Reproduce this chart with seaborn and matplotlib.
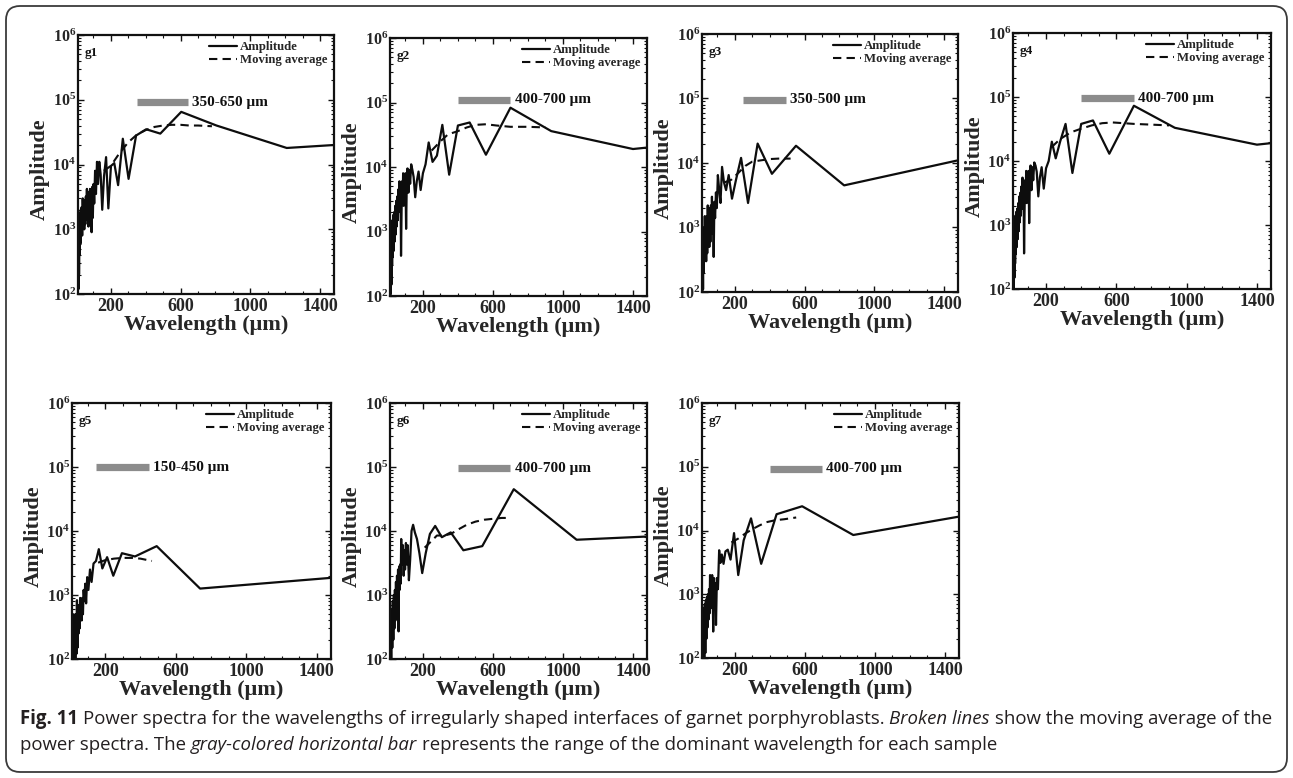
import matplotlib
matplotlib.use('Agg')
import numpy as np
import pandas as pd
import matplotlib.pyplot as plt
import seaborn as sns
from matplotlib.patches import FancyBboxPatch
from matplotlib.transforms import IdentityTransform
from matplotlib.ticker import FixedLocator, MultipleLocator, LogLocator, NullFormatter, FixedFormatter
from matplotlib import font_manager

# ---------------- data ----------------
panel_names = ['g1', 'g2', 'g3', 'g4', 'g5', 'g6', 'g7']

g1_x = [1480, 1209, 806, 604, 484, 403, 345, 302, 269, 242, 220, 201, 186, 173, 161, 151, 142, 134,
        127, 121, 115, 110, 105, 101, 97, 93, 90, 87, 84, 81, 78, 75, 72, 69, 66, 63, 60, 57, 54,
        51, 48, 45, 42, 39, 36, 33, 30, 28, 26, 24, 22, 20, 18, 17, 16, 15]
g1_amp = [2.0e4, 1.8e4, 4.0e4, 6.5e4, 3.0e4, 3.5e4, 2.8e4, 6.0e3, 2.5e4, 4.8e3, 1.05e4, 9.5e3,
          2.1e3, 1.3e4, 6.5e3, 2.0e3, 7.0e3, 1.1e4, 5.0e3, 1.1e4, 3.5e3, 8.0e3, 2.5e3, 5.0e3,
          1.5e3, 4.5e3, 9.0e2, 3.5e3, 1.2e3, 4.2e3, 1.5e3, 3.8e3, 1.1e3, 3.0e3, 1.4e3, 4.2e3,
          1.6e3, 3.2e3, 1.2e3, 2.8e3, 1.0e3, 2.5e3, 1.3e3, 3.0e3, 8.0e2, 2.2e3, 1.0e3, 2.0e3,
          6.0e2, 1.8e3, 4.0e2, 1.5e3, 2.0e2, 1.2e3, 1.2e2, 8.0e2]
g1_ma_x = [160, 200, 250, 300, 350, 400, 450, 500, 550, 600, 650, 700, 780]
g1_ma = [8.0e3, 9.5e3, 1.5e4, 2.2e4, 2.9e4, 3.4e4, 3.8e4, 4.0e4, 4.1e4, 4.1e4, 4.0e4, 4.0e4, 3.9e4]

g2_x = [1480, 1400, 933, 700, 560, 467, 400, 350, 311, 280, 255, 233, 215, 200, 187, 175, 165, 156,
        147, 140, 133, 127, 122, 117, 112, 108, 104, 100, 97, 93, 90, 87, 84, 81, 78, 75, 72, 69,
        66, 63, 60, 57, 54, 51, 48, 45, 42, 39, 36, 33, 30, 28, 26, 24, 22, 20, 18, 17, 16, 15]
g2_amp = [2.0e4, 1.9e4, 3.6e4, 8.3e4, 1.55e4, 4.9e4, 4.4e4, 7.6e3, 4.5e4, 1.5e4, 1.2e4, 2.4e4,
          1.1e4, 8.0e3, 4.4e3, 8.5e3, 6.0e3, 3.4e3, 7.0e3, 9.0e3, 1.1e4, 5.5e3, 9.0e3, 4.0e3,
          9.5e3, 6.0e3, 1.1e3, 8.0e3, 3.0e3, 7.0e3, 2.5e3, 8.0e3, 3.0e3, 6.0e3, 2.0e3, 4.2e2,
          5.0e3, 2.5e3, 6.0e3, 2.0e3, 4.5e3, 1.5e3, 3.5e3, 1.2e3, 3.0e3, 9.0e2, 2.5e3, 7.0e2,
          2.0e3, 5.0e2, 1.8e3, 4.0e2, 1.5e3, 3.0e2, 1.2e3, 1.5e2, 9.0e2, 1.1e2, 6.0e2, 1.0e2]
g2_ma_x = [250, 300, 343, 400, 450, 500, 560, 620, 700, 800, 900]
g2_ma = [1.8e4, 2.5e4, 3.2e4, 3.6e4, 4.1e4, 4.5e4, 4.6e4, 4.4e4, 4.2e4, 4.2e4, 4.1e4]

g3_x = [1480, 827, 551, 413, 331, 276, 236, 207, 184, 165, 150, 138, 127, 118, 110, 103, 97, 92,
        87, 83, 79, 75, 72, 69, 66, 63, 60, 57, 54, 51, 48, 45, 42, 39, 36, 33, 30, 28, 26, 24,
        22, 20, 18, 16, 14]
g3_amp = [1.1e4, 4.5e3, 1.85e4, 6.8e3, 2.0e4, 2.4e3, 1.2e4, 5.5e3, 2.8e3, 6.5e3, 3.8e3, 5.0e3,
          8.7e3, 2.4e3, 4.0e3, 6.5e3, 2.0e3, 3.5e3, 1.4e3, 2.5e3, 3.5e2, 2.0e3, 1.2e3, 3.0e3,
          8.0e2, 2.2e3, 6.0e2, 2.0e3, 5.0e2, 1.8e3, 7.0e2, 2.2e3, 4.0e2, 1.5e3, 3.0e2, 1.2e3,
          5.0e2, 1.5e3, 3.0e2, 1.0e3, 2.0e2, 8.0e2, 1.1e2, 5.0e2, 1.0e2]
g3_ma_x = [140, 180, 220, 260, 300, 350, 400, 450, 520]
g3_ma = [5.0e3, 5.5e3, 7.0e3, 9.0e3, 1.05e4, 1.1e4, 1.15e4, 1.17e4, 1.17e4]

g4_x = [1480, 1400, 933, 700, 560, 467, 400, 350, 311, 280, 255, 233, 215, 200, 187, 175, 165, 156,
        147, 140, 133, 127, 122, 117, 112, 108, 104, 100, 97, 93, 90, 87, 84, 81, 78, 75, 72, 69,
        66, 63, 60, 57, 54, 51, 48, 45, 42, 39, 36, 33, 30, 28, 26, 24, 22, 20, 18, 17, 16, 15]
g4_amp = [1.9e4, 1.8e4, 3.3e4, 7.3e4, 1.3e4, 4.3e4, 3.8e4, 6.5e3, 3.8e4, 2.0e4, 1.1e4, 2.0e4,
          1.0e4, 7.7e3, 3.7e3, 8.0e3, 5.5e3, 2.8e3, 6.8e3, 8.5e3, 9.5e3, 5.0e3, 8.0e3, 3.5e3,
          8.5e3, 5.5e3, 1.07e3, 7.0e3, 2.8e3, 6.5e3, 2.2e3, 7.0e3, 2.8e3, 5.0e3, 1.8e3, 3.6e2,
          4.5e3, 2.2e3, 5.5e3, 1.8e3, 4.0e3, 1.4e3, 3.2e3, 1.1e3, 2.8e3, 8.0e2, 2.2e3, 6.0e2,
          1.8e3, 4.5e2, 1.6e3, 3.5e2, 1.4e3, 2.5e2, 1.1e3, 1.5e2, 8.0e2, 1.0e2, 5.0e2, 1.0e2]
g4_ma_x = [232, 280, 340, 400, 460, 520, 580, 640, 700, 800, 900]
g4_ma = [1.65e4, 2.2e4, 2.8e4, 3.2e4, 3.6e4, 3.9e4, 4.0e4, 3.9e4, 3.8e4, 3.7e4, 3.6e4]

g5_x = [1476, 738, 492, 369, 295, 246, 211, 184, 164, 148, 134, 123, 114, 105, 98, 92, 87, 82, 78,
        74, 70, 67, 64, 61, 58, 55, 52, 49, 46, 43, 40, 37, 34, 31, 28, 25, 22, 19]
g5_amp = [1.85e3, 1.26e3, 5.8e3, 4.0e3, 4.5e3, 2.0e3, 3.9e3, 2.6e3, 5.2e3, 3.4e3, 3.1e3, 1.6e3,
          2.5e3, 1.2e3, 1.9e3, 7.4e2, 1.5e3, 8.0e2, 1.2e3, 5.0e2, 9.0e2, 4.0e2, 8.3e2, 5.0e2,
          9.0e2, 3.0e2, 7.0e2, 2.5e2, 6.0e2, 1.5e2, 8.3e2, 1.2e2, 5.0e2, 1.0e2, 4.0e2, 1.0e2,
          5.0e2, 1.5e2]
g5_ma_x = [160, 200, 250, 300, 350, 400, 465]
g5_ma = [3.2e3, 3.5e3, 3.7e3, 3.8e3, 3.8e3, 3.7e3, 3.4e3]

g6_x = [1480, 1078, 719, 539, 431, 359, 308, 270, 240, 216, 196, 180, 166, 154, 144, 135, 127, 120,
        113, 108, 103, 98, 94, 90, 86, 82, 79, 76, 73, 70, 67, 64, 61, 58, 55, 52, 49, 46, 43, 40,
        37, 34, 31, 28, 25, 22, 19, 16]
g6_amp = [8.2e3, 7.3e3, 4.5e4, 5.8e3, 5.0e3, 9.5e3, 8.0e3, 1.2e4, 9.0e3, 4.5e3, 2.2e3, 4.5e3,
          7.5e3, 9.5e3, 1.25e4, 1.0e4, 3.5e3, 1.7e3, 6.0e3, 3.0e3, 6.5e3, 2.5e3, 5.0e3, 2.0e3,
          6.0e3, 3.0e3, 3.0e3, 7.5e3, 1.5e3, 3.0e3, 1.2e3, 2.8e3, 2.7e2, 2.5e3, 7.0e2, 2.0e3,
          5.0e2, 1.6e3, 4.0e2, 1.2e3, 3.0e2, 1.0e3, 2.0e2, 8.0e2, 1.5e2, 6.0e2, 1.0e2, 5.0e2]
g6_ma_x = [210, 250, 280, 320, 360, 400, 450, 500, 550, 600, 650, 700]
g6_ma = [5.5e3, 7.0e3, 8.5e3, 8.5e3, 9.0e3, 1.05e4, 1.25e4, 1.4e4, 1.5e4, 1.55e4, 1.6e4, 1.6e4]

g7_x = [1480, 876, 584, 438, 350, 292, 250, 219, 195, 175, 159, 146, 135, 125, 117, 110, 103, 97,
        92, 88, 83, 80, 76, 73, 70, 67, 64, 61, 58, 55, 52, 49, 46, 43, 40, 37, 34, 31, 28, 25,
        22, 19, 16]
g7_amp = [1.65e4, 8.5e3, 2.4e4, 1.8e4, 3.0e3, 1.55e4, 7.0e3, 2.0e3, 9.1e3, 3.5e3, 5.0e3, 4.7e3,
          3.0e3, 4.2e3, 3.1e3, 4.9e3, 1.2e3, 1.8e3, 3.3e2, 1.5e3, 9.0e2, 1.8e3, 2.6e2, 1.2e3,
          2.0e3, 9.0e2, 1.6e3, 6.0e2, 2.0e3, 5.0e2, 1.2e3, 4.0e2, 1.0e3, 3.0e2, 9.0e2, 2.0e2,
          8.0e2, 1.2e2, 7.0e2, 1.0e2, 6.0e2, 1.5e2, 4.0e2]
g7_ma_x = [180, 220, 260, 300, 340, 380, 430, 480, 550]
g7_ma = [6.5e3, 7.5e3, 9.0e3, 1.05e4, 1.2e4, 1.35e4, 1.45e4, 1.5e4, 1.6e4]

bar_lo = [350, 400, 245, 400, 150, 400, 400]
bar_hi = [640, 700, 495, 700, 450, 700, 695]
bar_y = [9.2e4, 1.1e5, 9.6e4, 9.5e4, 1.0e5, 9.6e4, 9.3e4]
bar_text = ['350-650 μm', '400-700 μm', '350-500 μm', '400-700 μm', '150-450 μm', '400-700 μm', '400-700 μm']

x_ticks = [200, 600, 1000, 1400]
y_ticks = [1e2, 1e3, 1e4, 1e5, 1e6]
y_tick_labels = [r'$\mathbf{10^{2}}$', r'$\mathbf{10^{3}}$', r'$\mathbf{10^{4}}$',
                 r'$\mathbf{10^{5}}$', r'$\mathbf{10^{6}}$']

amp_x = [g1_x, g2_x, g3_x, g4_x, g5_x, g6_x, g7_x]
amp_y = [g1_amp, g2_amp, g3_amp, g4_amp, g5_amp, g6_amp, g7_amp]
ma_x = [g1_ma_x, g2_ma_x, g3_ma_x, g4_ma_x, g5_ma_x, g6_ma_x, g7_ma_x]
ma_y = [g1_ma, g2_ma, g3_ma, g4_ma, g5_ma, g6_ma, g7_ma]

# ---------------- style ----------------
sns.set_theme(style='ticks')
SERIF = 'Liberation Serif'
plt.rcParams['font.family'] = [SERIF, 'DejaVu Serif']
plt.rcParams['font.weight'] = 'bold'
plt.rcParams['mathtext.fontset'] = 'custom'
plt.rcParams['mathtext.bf'] = 'Liberation Serif:bold'
plt.rcParams['mathtext.rm'] = 'Liberation Serif:bold'
plt.rcParams['lines.dashed_pattern'] = [4, 2.5]
plt.rcParams['axes.linewidth'] = 1.6
plt.rcParams['axes.edgecolor'] = '#111111'

W, H = 1293, 778
fig = plt.figure(figsize=(W / 100, H / 100), dpi=100)
fig.patch.set_facecolor('white')

# axes boxes in pixels: left, right, top, bottom
boxes_px = [(78, 334, 35, 294), (390, 647, 38, 296), (702, 958, 34, 292), (1013, 1271, 33, 289),
            (72, 331, 403, 659), (390, 647, 403, 659), (702, 959, 403, 658)]

LINE = '#0d0d0d'
for i, name in enumerate(panel_names):
    l, r, t, b = boxes_px[i]
    ax = fig.add_axes([l / W, 1 - b / H, (r - l) / W, (b - t) / H])
    ax.set_yscale('log')
    df = pd.DataFrame({'Wavelength': amp_x[i], 'Amplitude': amp_y[i]})
    dfm = pd.DataFrame({'Wavelength': ma_x[i], 'Amplitude': ma_y[i]})
    sns.lineplot(data=df, x='Wavelength', y='Amplitude', ax=ax, color=LINE, lw=1.6,
                 estimator=None, label='Amplitude')
    sns.lineplot(data=dfm, x='Wavelength', y='Amplitude', ax=ax, color=LINE, lw=1.5,
                 linestyle='--', estimator=None, label='Moving average')
    ax.hlines(bar_y[i], bar_lo[i], bar_hi[i], color='#8c8c8c', lw=5.2)
    ax.annotate(bar_text[i], xy=(bar_hi[i], bar_y[i]), xytext=(3, 0), textcoords='offset points',
                va='center', ha='left', fontsize=11, fontweight='bold', color='#111111')
    ax.text(0.025, 0.93, name, transform=ax.transAxes, fontsize=9.5, fontweight='bold',
            va='center', ha='left', color='#111111')

    ax.set_xlim(12, 1480)
    ax.set_ylim(1e2, 1e6)
    ax.xaxis.set_major_locator(FixedLocator(x_ticks))
    ax.xaxis.set_minor_locator(MultipleLocator(100))
    ax.yaxis.set_major_locator(FixedLocator(y_ticks))
    ax.yaxis.set_major_formatter(FixedFormatter(y_tick_labels))
    ax.yaxis.set_minor_locator(LogLocator(base=10, subs=np.arange(2, 10)))
    ax.yaxis.set_minor_formatter(NullFormatter())
    ax.tick_params(which='both', direction='in', top=True, right=True, bottom=True, left=True,
                   color='#111111')
    ax.tick_params(which='major', length=4, width=1)
    ax.tick_params(which='minor', length=2.2, width=0.8)
    ax.tick_params(axis='x', labelsize=13, pad=3)
    ax.tick_params(axis='y', labelsize=11.5, pad=1.5)
    for lab in ax.get_xticklabels():
        lab.set_fontweight('bold')

    ax.set_xlabel('Wavelength (μm)', fontsize=16, fontweight='bold')
    ax.set_ylabel('Amplitude', fontsize=16, fontweight='bold')
    ax.yaxis.set_label_coords(-0.11, 0.48)
    ax.xaxis.set_label_coords(0.5, -0.082)

    leg = ax.legend(loc='upper right', frameon=False, prop={'weight': 'bold', 'size': 9.2,
                    'family': SERIF}, handlelength=2.2, handletextpad=0.25, labelspacing=0.05,
                    borderaxespad=0.2, borderpad=0.3)

# ---------------- outer rounded frame ----------------
frame = FancyBboxPatch((6, 6), W - 12, H - 12, boxstyle='round,pad=0,rounding_size=14',
                       transform=IdentityTransform(), fill=False, ec='#3a3a3a', lw=1.3)
fig.add_artist(frame)

# ---------------- caption ----------------
avail = {f.name for f in font_manager.fontManager.ttflist}
cap_font = next((f for f in ['Liberation Sans Narrow', 'Open Sans', 'Noto Sans', 'DejaVu Sans']
                 if f in avail), 'DejaVu Sans')
renderer = fig.canvas.get_renderer()
CAP_COL = '#231f20'

line1 = [('Fig. 11', 'bold'),
         ('Power spectra for the wavelengths of irregularly shaped interfaces of garnet porphyroblasts.', 'normal'),
         ('Broken lines', 'italic'),
         ('show the moving average of the', 'normal')]
line2 = [('power spectra. The', 'normal'),
         ('gray-colored horizontal bar', 'italic'),
         ('represents the range of the dominant wavelength for each sample', 'normal')]


def make_text(x, y, s, style, size):
    return fig.text(x, y, s, fontsize=size, family=cap_font, color=CAP_COL,
                    fontweight='bold' if style == 'bold' else 'normal',
                    fontstyle='italic' if style == 'italic' else 'normal',
                    va='baseline', ha='left')


def measure(s, style, size):
    t = make_text(0, 0, s, style, size)
    w = t.get_window_extent(renderer).width
    t.remove()
    return w


def space_w(size):
    return measure('a a', 'normal', size) - measure('aa', 'normal', size)


def line_width(parts, size):
    return sum(measure(s, st, size) for s, st in parts) + space_w(size) * (len(parts) - 1)


cap_size = 10 * (1255 / line_width(line1, 10))


def place(parts, x0, y_base, size):
    sp = space_w(size)
    x = x0
    for s, st in parts:
        t = make_text(x / W, 1 - y_base / H, s, st, size)
        x += t.get_window_extent(renderer).width + sp


place(line1, 20, 724, cap_size)
place(line2, 20, 750, cap_size)

fig.savefig('out.png', dpi=100)
